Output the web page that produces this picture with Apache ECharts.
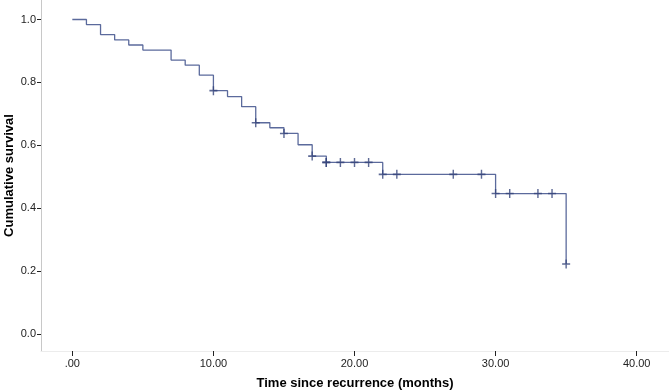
<!DOCTYPE html>
<html>
<head>
<meta charset="utf-8">
<script src="https://cdn.jsdelivr.net/npm/echarts@6/dist/echarts.min.js"></script>
<style>
  html, body { margin: 0; padding: 0; background: #fff; }
  #chart { width: 669px; height: 392px; }
</style>
</head>
<body>
<div id="chart"></div>
<script>
// survival curve: time (months) and cumulative survival after each event
const eventTimes = [0, 1, 2, 3, 4, 5, 7, 8, 9, 10, 11, 12, 13, 14, 15, 16, 17, 18, 22, 30, 35];
const survival = [1.0, 0.984, 0.952, 0.935, 0.919, 0.903, 0.871, 0.855, 0.823, 0.774, 0.755, 0.723, 0.672, 0.656, 0.638, 0.602, 0.566, 0.546, 0.508, 0.447, 0.223];

// censored observations
const censorTimes = [10, 13, 15, 17, 18, 18, 19, 20, 21, 22, 23, 27, 29, 30, 31, 33, 34, 35];
const censorSurv = [0.774, 0.672, 0.638, 0.566, 0.546, 0.546, 0.546, 0.546, 0.546, 0.508, 0.508, 0.508, 0.508, 0.447, 0.447, 0.447, 0.447, 0.223];

const xTicks = [0, 10, 20, 30, 40];
const yTicks = [0, 0.2, 0.4, 0.6, 0.8, 1.0];

const font = 'Liberation Sans, Arial, sans-serif';
const chart = echarts.init(document.getElementById('chart'));

chart.setOption({
  animation: false,
  grid: { left: 41, right: 0, top: 0, bottom: 41, outerBoundsMode: 'none', containLabel: false },
  xAxis: {
    type: 'value',
    min: -2.22,
    max: 42.29,
    name: 'Time since recurrence (months)',
    nameLocation: 'middle',
    nameGap: 26,
    nameMoveOverlap: false,
    nameTextStyle: { fontFamily: font, fontSize: 13, fontWeight: 'bold', color: '#000' },
    axisLine: { show: true, onZero: false, lineStyle: { color: '#ececec', width: 1 } },
    axisTick: { show: true, customValues: xTicks, length: 5, lineStyle: { color: '#222' } },
    axisLabel: {
      customValues: xTicks,
      margin: 7,
      fontFamily: font,
      fontSize: 11,
      color: '#222',
      formatter: v => (v === 0 ? '.00' : v.toFixed(2))
    },
    splitLine: { show: false }
  },
  yAxis: {
    type: 'value',
    min: -0.0533,
    max: 1.062,
    name: 'Cumulative survival',
    nameLocation: 'middle',
    nameGap: 25,
    nameMoveOverlap: false,
    nameTextStyle: { fontFamily: font, fontSize: 13, fontWeight: 'bold', color: '#000' },
    axisLine: { show: true, onZero: false, lineStyle: { color: '#c8c8c8', width: 1 } },
    axisTick: { show: true, customValues: yTicks, length: 4, lineStyle: { color: '#222' } },
    axisLabel: {
      customValues: yTicks,
      margin: 5,
      fontFamily: font,
      fontSize: 11,
      color: '#222',
      formatter: v => v.toFixed(1)
    },
    splitLine: { show: false }
  },
  series: [
    {
      type: 'line',
      step: 'end',
      data: eventTimes.map((t, i) => [t, survival[i]]),
      showSymbol: false,
      lineStyle: { color: '#5b6a9c', width: 1.3 },
      z: 2
    },
    {
      type: 'scatter',
      data: censorTimes.map((t, i) => [t, censorSurv[i]]),
      symbol: 'path://M3.7,0H5.3V9H3.7Z M0,3.7H9V5.3H0Z',
      symbolSize: [8, 9],
      itemStyle: { color: '#34437a' },
      z: 3
    }
  ]
});
</script>
</body>
</html>
